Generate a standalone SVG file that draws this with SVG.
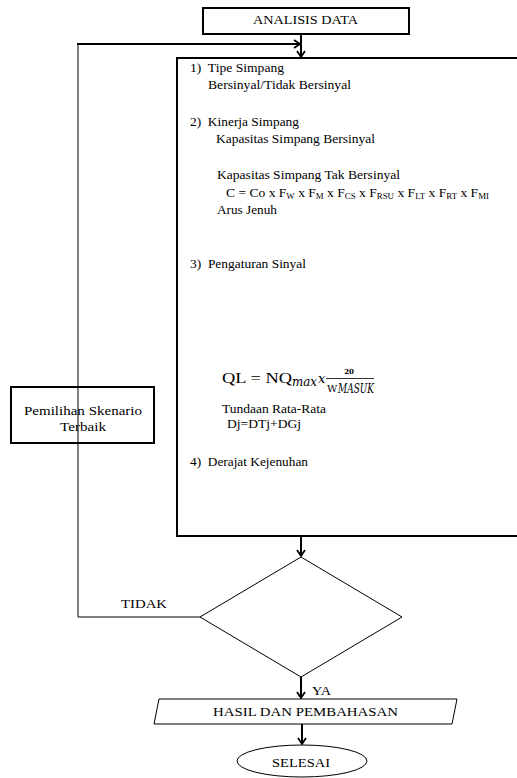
<svg xmlns="http://www.w3.org/2000/svg" width="517" height="778" viewBox="0 0 517 778">
<style>
text{font-family:"Liberation Serif","Times New Roman","DejaVu Serif",serif;font-size:13px;fill:#000}
.thin{fill:none;stroke:#000;stroke-width:1}
.thick{fill:none;stroke:#000;stroke-width:2}
.m{font-family:"DejaVu Serif","Liberation Serif",serif;font-style:italic}
</style>
<defs>
<marker id="ah" markerWidth="10" markerHeight="10" refX="8" refY="5" orient="auto" markerUnits="userSpaceOnUse">
<polyline points="2,1 8,5 2,9" fill="none" stroke="#000" stroke-width="1.8"/>
</marker>
</defs>
<rect width="517" height="778" fill="#fff"/>
<g id="connectors">
<line class="thick" x1="301" y1="34" x2="301" y2="57" marker-end="url(#ah)"/>
<polyline class="thin" points="200,617 78,617 78,44"/>
<line class="thick" x1="77" y1="44" x2="300" y2="44" marker-end="url(#ah)"/>
<line class="thick" x1="301" y1="537" x2="301" y2="556" marker-end="url(#ah)"/>
<line class="thick" x1="301" y1="677" x2="301" y2="698" marker-end="url(#ah)"/>
<line class="thick" x1="302" y1="724" x2="302" y2="744" marker-end="url(#ah)"/>
<text x="121" y="608" textLength="46" lengthAdjust="spacingAndGlyphs">TIDAK</text>
<text x="312" y="695" textLength="19" lengthAdjust="spacingAndGlyphs">YA</text>
</g>
<g id="analisis">
<rect class="thick" x="203" y="8" width="206" height="26"/>
<text x="253" y="24" textLength="105" lengthAdjust="spacingAndGlyphs">ANALISIS DATA</text>
</g>
<g id="main">
<rect class="thick" x="177" y="58" width="345" height="478"/>
<text x="190" y="72" textLength="94" lengthAdjust="spacingAndGlyphs" xml:space="preserve">1)  Tipe Simpang</text>
<text x="208" y="89" textLength="143" lengthAdjust="spacingAndGlyphs">Bersinyal/Tidak Bersinyal</text>
<text x="190" y="126" textLength="109" lengthAdjust="spacingAndGlyphs" xml:space="preserve">2)  Kinerja Simpang</text>
<text x="216" y="143" textLength="159" lengthAdjust="spacingAndGlyphs">Kapasitas Simpang Bersinyal</text>
<text x="217" y="179" textLength="183" lengthAdjust="spacingAndGlyphs">Kapasitas Simpang Tak Bersinyal</text>
<text x="226" y="197" textLength="263" lengthAdjust="spacingAndGlyphs">C = Co x F<tspan font-size="8.5" dy="2">W</tspan><tspan dy="-2"> x F</tspan><tspan font-size="8.5" dy="2">M</tspan><tspan dy="-2"> x F</tspan><tspan font-size="8.5" dy="2">CS</tspan><tspan dy="-2"> x F</tspan><tspan font-size="8.5" dy="2">RSU</tspan><tspan dy="-2"> x F</tspan><tspan font-size="8.5" dy="2">LT</tspan><tspan dy="-2"> x F</tspan><tspan font-size="8.5" dy="2">RT</tspan><tspan dy="-2"> x F</tspan><tspan font-size="8.5" dy="2">MI</tspan></text>
<text x="217" y="214" textLength="60" lengthAdjust="spacingAndGlyphs">Arus Jenuh</text>
<text x="190" y="268" textLength="116" lengthAdjust="spacingAndGlyphs" xml:space="preserve">3)  Pengaturan Sinyal</text>
<text x="222" y="383" style="font-size:15px" textLength="70" lengthAdjust="spacingAndGlyphs">QL = NQ</text>
<text class="m" x="292" y="386" font-size="10" textLength="25" lengthAdjust="spacingAndGlyphs">max</text>
<text class="m" x="318" y="383" font-size="11">x</text>
<text x="349" y="374" text-anchor="middle" style="font-family:'DejaVu Serif',serif;font-size:7px;font-weight:bold">20</text>
<line x1="326" y1="378.5" x2="374" y2="378.5" stroke="#000" stroke-width="0.8"/>
<text x="327" y="392" style="font-family:'DejaVu Serif',serif;font-size:10px">W</text>
<text class="m" x="338" y="393" font-size="7.5" textLength="36" lengthAdjust="spacingAndGlyphs">MASUK</text>
<text x="222" y="413" textLength="104" lengthAdjust="spacingAndGlyphs">Tundaan Rata-Rata</text>
<text x="227" y="428" textLength="74" lengthAdjust="spacingAndGlyphs">Dj=DTj+DGj</text>
<text x="190" y="466" textLength="118" lengthAdjust="spacingAndGlyphs" xml:space="preserve">4)  Derajat Kejenuhan</text>
</g>
<g id="pemilihan">
<rect class="thick" x="11" y="387" width="143" height="56" stroke-width="1.5"/>
<text x="24" y="415" textLength="118" lengthAdjust="spacingAndGlyphs">Pemilihan Skenario</text>
<text x="60" y="431" textLength="46" lengthAdjust="spacingAndGlyphs">Terbaik</text>
</g>
<g id="keputusan">
<polygon class="thin" points="301,557 402,617 301,677 200,617"/>
</g>
<g id="hasil">
<polygon class="thin" points="159,699 457,699 452,724 154,724"/>
<text x="213" y="716" textLength="185" lengthAdjust="spacingAndGlyphs">HASIL DAN PEMBAHASAN</text>
</g>
<g id="selesai">
<ellipse class="thin" cx="302" cy="761" rx="65" ry="16"/>
<text x="272" y="767" textLength="58" lengthAdjust="spacingAndGlyphs">SELESAI</text>
</g>
</svg>
